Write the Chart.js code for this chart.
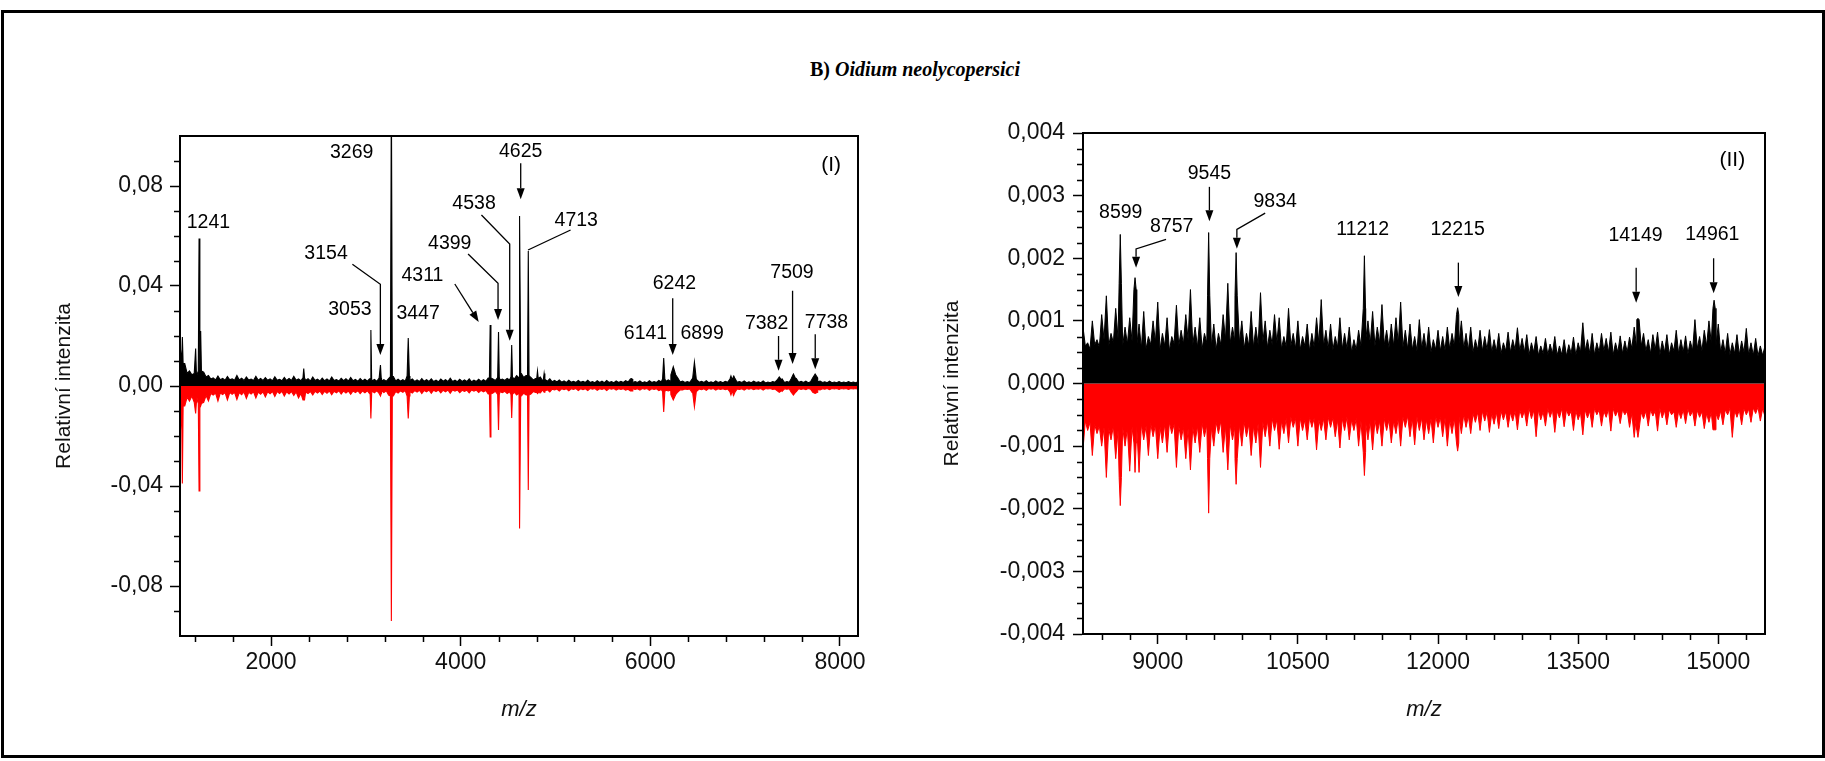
<!DOCTYPE html>
<html>
<head>
<meta charset="utf-8">
<script src="https://cdn.jsdelivr.net/npm/chart.js@4.4.1/dist/chart.umd.min.js"></script>
<style>
    html, body { margin: 0; padding: 0; background: #fff; }
    body { width: 1825px; height: 761px; position: relative; overflow: hidden; }
    #frame { position: absolute; left: 1px; top: 10px; width: 1818px; height: 742px; border: 3px solid #000; }
    #title { position: absolute; left: 0; top: 58px; width: 1830px; text-align: center;
             font: bold 20px "Liberation Serif", "Times New Roman", serif; color: #000; }
    .box { position: absolute; }
</style>
</head>
<body>
<div id="frame"></div>
<div id="title">B) <i>Oidium neolycopersici</i></div>
<div class="box" style="left:0;top:100px"><canvas id="specI" width="900" height="640"></canvas></div>
<div class="box" style="left:880px;top:100px"><canvas id="specII" width="945" height="640"></canvas></div>

<script>
// Panel (I): noise tops every 50 m/z from 1040, troughs half a step later; intensities x1e-3
const gridStartI = 1040;
const gridStepI = 50;
const blackI = [
    17, 9, 6, 5, 6, 5.5, 4.2, 3.2, 4.0, 3.0,
    3.8, 2.9, 4.2, 3.1, 3.6, 2.8, 3.9, 3.0, 3.4, 2.8,
    3.7, 2.7, 3.4, 3.0, 3.9, 2.8, 3.3, 2.9, 3.6, 2.7,
    3.2, 2.8, 3.6, 2.6, 3.1, 2.9, 3.4, 2.6, 3.0, 2.7,
    2.9, 2.6, 3.2, 2.5, 3.0, 3.8, 2.7, 2.5, 4.0, 2.8,
    2.4, 3.0, 2.5, 2.9, 2.3, 2.8, 2.5, 3.1, 2.3, 2.7,
    2.4, 2.9, 2.3, 2.7, 2.5, 3.2, 2.8, 3.4, 2.8, 3.0,
    3.6, 4.2, 5.0, 4.2, 3.4, 3.0, 3.6, 2.6, 2.9, 2.2,
    2.4, 2.0, 2.3, 1.9, 2.2, 1.9, 2.3, 1.8, 2.1, 1.9,
    2.2, 1.8, 2.0, 1.9, 2.1, 2.8, 1.8, 2.0, 1.7, 2.1,
    1.8, 2.2, 2.8, 2.4, 4.5, 3.2, 2.0, 1.8, 2.8, 2.6,
    1.9, 2.1, 1.7, 2.0, 1.8, 1.9, 2.8, 3.2, 1.8, 2.0,
    1.7, 1.9, 1.7, 2.0, 1.6, 1.8, 2.3, 2.8, 1.8, 2.8,
    3.0, 1.9, 1.9, 1.7, 3.3, 2.0, 1.7, 1.9, 1.6, 1.8,
    1.6, 1.8, 1.6, 1.7
];
const blackDipI = [
    8, 5, 4.5, 4.0, 4.5, 3.6, 2.8, 2.4, 2.5, 2.3,
    2.5, 2.3, 2.4, 2.2, 2.4, 2.2, 2.3, 2.2, 2.3, 2.1,
    2.3, 2.1, 2.2, 2.2, 2.3, 2.1, 2.2, 2.0, 2.2, 2.0,
    2.1, 2.0, 2.2, 2.0, 2.1, 2.0, 2.1, 1.9, 2.0, 1.9,
    2.0, 1.9, 2.0, 1.9, 2.2, 2.0, 1.9, 1.9, 2.2, 1.8,
    1.8, 1.9, 1.8, 1.8, 1.7, 1.9, 1.8, 1.8, 1.7, 1.8,
    1.8, 1.7, 1.8, 1.8, 1.9, 2.2, 2.2, 2.4, 2.2, 2.4,
    2.8, 3.2, 3.4, 2.8, 2.4, 2.3, 2.0, 1.9, 1.7, 1.6,
    1.5, 1.4, 1.5, 1.4, 1.5, 1.4, 1.4, 1.3, 1.4, 1.3,
    1.4, 1.3, 1.4, 1.4, 1.6, 1.4, 1.4, 1.3, 1.3, 1.4,
    1.4, 1.6, 1.9, 1.8, 2.4, 1.6, 1.4, 1.4, 2.0, 1.5,
    1.4, 1.3, 1.3, 1.4, 1.3, 1.5, 2.0, 1.5, 1.4, 1.3,
    1.3, 1.4, 1.3, 1.2, 1.3, 1.5, 1.7, 1.4, 1.5, 2.0,
    1.5, 1.4, 1.3, 1.5, 1.7, 1.4, 1.3, 1.3, 1.3, 1.3,
    1.3, 1.3, 1.3
];
const redI = [
    -22, -8, -6, -6.5, -7, -6.5, -6.0, -3.6, -6.0, -3.4,
    -5.6, -3.3, -5.4, -3.5, -5.0, -3.2, -4.8, -3.3, -4.4, -3.1,
    -4.2, -3.0, -4.0, -3.2, -3.8, -4.8, -5.6, -3.0, -3.6, -2.8,
    -3.4, -2.9, -3.5, -2.7, -3.2, -2.8, -3.3, -2.6, -3.1, -2.7,
    -3.1, -2.7, -3.0, -2.6, -3.6, -4.0, -2.8, -2.5, -4.0, -2.8,
    -2.4, -3.0, -2.3, -2.9, -2.2, -2.8, -2.3, -2.9, -2.1, -2.7,
    -2.2, -2.8, -2.1, -2.6, -2.3, -3.2, -2.8, -3.4, -2.7, -3.0,
    -3.4, -3.6, -4.0, -3.6, -3.2, -2.6, -2.8, -2.0, -2.4, -1.6,
    -2.0, -1.5, -1.9, -1.4, -1.8, -1.5, -1.8, -1.3, -1.7, -1.4,
    -1.8, -1.3, -1.6, -1.4, -1.7, -2.0, -1.4, -1.6, -1.3, -1.7,
    -1.4, -1.8, -2.2, -2.0, -3.5, -2.4, -1.6, -1.4, -2.6, -2.2,
    -1.5, -1.7, -1.3, -1.6, -1.4, -1.5, -2.4, -2.7, -1.4, -1.6,
    -1.3, -1.5, -1.3, -1.6, -1.2, -1.4, -1.8, -2.1, -1.3, -2.4,
    -2.2, -1.4, -1.5, -1.3, -2.5, -1.6, -1.3, -1.5, -1.2, -1.4,
    -1.2, -1.4, -1.2, -1.3
];
const redDipI = [
    -7, -4.5, -4.0, -4.2, -4.2, -3.8, -3.0, -2.8, -2.8, -2.6,
    -2.6, -2.5, -2.6, -2.4, -2.5, -2.3, -2.4, -2.3, -2.3, -2.2,
    -2.2, -2.1, -2.3, -2.2, -2.4, -3.0, -2.4, -2.2, -2.1, -2.0,
    -2.1, -2.0, -2.1, -1.9, -2.0, -2.0, -2.0, -1.9, -2.0, -1.9,
    -2.0, -1.9, -1.9, -1.9, -2.4, -2.2, -1.9, -1.8, -2.2, -1.8,
    -1.7, -1.8, -1.6, -1.7, -1.6, -1.7, -1.6, -1.6, -1.6, -1.7,
    -1.7, -1.6, -1.6, -1.7, -1.8, -2.2, -2.1, -2.3, -2.1, -2.3,
    -2.5, -2.8, -2.9, -2.6, -2.2, -2.0, -1.6, -1.5, -1.3, -1.2,
    -1.1, -1.1, -1.1, -1.0, -1.1, -1.1, -1.0, -1.0, -1.1, -1.0,
    -1.0, -1.0, -1.1, -1.1, -1.3, -1.1, -1.1, -1.0, -1.0, -1.1,
    -1.1, -1.4, -1.7, -1.6, -2.2, -1.5, -1.2, -1.2, -1.9, -1.2,
    -1.1, -1.0, -1.0, -1.1, -1.1, -1.2, -1.8, -1.2, -1.1, -1.0,
    -1.0, -1.1, -1.0, -1.0, -1.0, -1.2, -1.5, -1.1, -1.1, -1.8,
    -1.1, -1.1, -1.0, -1.1, -1.4, -1.1, -1.0, -1.0, -1.0, -1.0,
    -1.0, -1.0, -1.0
];
const peakMzI =        [1065, 1205, 1241, 1258, 2345, 3053, 3154, 3269, 3447, 4311, 4399, 4538, 4625, 4713, 4810, 4880, 5800, 6141, 6242, 6465, 6850, 6880, 7360, 7509, 7738];
const peakBlackI =     [19.6, 15, 59, 22, 7, 22.4, 8.4, 120, 19.2, 24.4, 21.6, 16.4, 68, 54, 6, 5, 3, 11.2, 7.7, 9.6, 4, 4, 3.6, 4.8, 4.8];
const peakRedI =       [-39, -11, -42, -8, -5.6, -13, -4, -94, -13, -20.4, -17.6, -12.8, -57, -41.6, -3, -2.5, -2, -10.4, -5.6, -8.4, -3.6, -3.6, -2.5, -3.6, -3];
const peakHalfWidthI = [8, 8, 8, 8, 8, 8, 8, 10, 12, 8, 8, 8, 8, 8, 8, 8, 10, 12, 25, 20, 10, 10, 25, 25, 25];

// Panel (II): envelope tops every 50 m/z from 8200, troughs half a step later; intensities x1e-4
const gridStartII = 8200;
const gridStepII = 50;
const blackII = [
    9.0, 6.5, 10.0, 7.0, 11.0, 14.0, 8.0, 12.0, 16.0, 9.0,
    10.5, 15.0, 9.5, 11.5, 7.5, 10.0, 13.0, 8.0, 10.5, 7.5,
    12.5, 8.5, 11.0, 15.0, 9.0, 10.5, 8.0, 14.0, 9.5, 8.0,
    11.0, 16.0, 9.0, 14.0, 10.0, 8.0, 11.5, 9.0, 14.5, 10.0,
    8.5, 11.0, 10.5, 7.5, 12.0, 8.0, 10.0, 7.5, 9.5, 8.0,
    10.5, 13.4, 8.5, 9.5, 7.5, 10.5, 8.0, 9.0, 7.0, 8.5,
    12.0, 10.0, 11.5, 9.0, 12.6, 8.5, 9.5, 10.5, 13.0, 8.5,
    9.5, 7.5, 10.2, 8.0, 9.0, 7.0, 8.5, 7.5, 9.0, 8.0,
    11.0, 10.0, 8.0, 9.0, 7.0, 8.5, 7.5, 8.6, 7.0, 8.0,
    6.5, 8.2, 7.0, 8.9, 7.2, 7.8, 6.5, 7.5, 6.0, 7.2,
    6.3, 7.5, 6.0, 7.0, 6.2, 7.4, 6.5, 9.7, 7.0, 8.0,
    6.5, 8.0, 7.2, 8.2, 6.5, 7.6, 6.8, 7.4, 9.0, 10.2,
    8.0, 7.0, 7.8, 8.2, 6.8, 7.8, 6.5, 8.5, 7.0, 7.6,
    6.8, 10.2, 7.5, 8.5, 10.0, 12.0, 9.5, 7.0, 8.0, 6.5,
    7.8, 6.8, 8.8, 6.5, 7.2, 6.0, 6.0
];
const blackDipII = [
    6.0, 5.5, 6.2, 5.8, 7.0, 6.0, 6.5, 7.2, 6.0, 6.3,
    6.8, 6.0, 5.6, 5.5, 6.2, 6.6, 5.4, 6.0, 5.2, 6.4,
    6.0, 6.3, 7.0, 6.2, 5.8, 5.5, 6.5, 6.0, 5.4, 6.2,
    7.0, 6.4, 6.8, 6.5, 5.6, 6.0, 5.8, 6.2, 6.6, 5.7,
    6.2, 6.5, 5.5, 5.9, 6.0, 5.6, 5.4, 6.0, 5.2, 5.8,
    6.4, 6.0, 5.6, 5.4, 5.8, 5.5, 5.6, 5.0, 5.4, 6.0,
    6.8, 6.4, 6.0, 6.5, 6.2, 5.7, 6.0, 6.4, 5.8, 5.5,
    5.4, 5.2, 5.6, 5.3, 5.0, 5.4, 5.2, 5.3, 5.5, 6.0,
    6.4, 5.6, 5.3, 5.0, 5.4, 5.2, 5.4, 5.0, 5.1, 4.8,
    5.2, 5.0, 5.4, 5.2, 5.0, 4.6, 5.0, 4.5, 4.8, 4.6,
    4.8, 4.5, 4.6, 4.4, 4.8, 4.5, 5.0, 5.2, 4.8, 4.6,
    5.0, 5.2, 5.0, 4.6, 5.0, 4.8, 5.0, 5.6, 6.0, 6.0,
    5.2, 4.8, 5.4, 4.6, 5.0, 4.6, 5.2, 4.8, 5.0, 4.7,
    5.3, 5.6, 5.2, 6.0, 6.5, 6.0, 5.0, 4.8, 4.6, 4.8,
    4.6, 5.0, 4.6, 4.5, 4.4, 4.5
];
const redII = [
    -10.5, -7.5, -11.5, -8.0, -10.0, -15.0, -9.0, -12.0, -15.0, -10.0,
    -14.0, -9.5, -14.2, -9.0, -11.5, -8.5, -12.0, -9.5, -11.0, -8.0,
    -13.4, -9.0, -12.0, -13.8, -9.5, -11.0, -8.5, -12.0, -10.0, -8.0,
    -11.0, -13.8, -9.0, -12.0, -10.0, -8.5, -11.5, -9.5, -13.4, -8.5,
    -10.0, -7.5, -10.5, -8.0, -9.5, -7.0, -10.0, -7.5, -9.0, -7.0,
    -10.6, -7.5, -9.0, -7.0, -8.5, -10.3, -7.5, -9.0, -7.5, -10.0,
    -11.0, -9.0, -10.6, -8.0, -10.0, -7.5, -9.5, -8.0, -10.0, -7.0,
    -8.5, -9.8, -7.5, -9.0, -8.0, -9.5, -7.0, -8.5, -10.0, -8.0,
    -9.5, -8.0, -7.0, -8.0, -6.2, -7.5, -6.0, -7.8, -6.5, -7.2,
    -5.8, -7.0, -6.0, -7.4, -5.5, -6.8, -5.6, -8.5, -5.8, -6.8,
    -5.4, -7.8, -5.5, -6.9, -5.2, -7.5, -5.8, -8.2, -5.5, -7.0,
    -5.0, -6.8, -5.4, -7.6, -5.2, -6.4, -5.0, -7.0, -8.6, -7.4,
    -5.6, -6.8, -5.2, -7.6, -5.5, -6.6, -5.0, -7.0, -5.6, -6.4,
    -5.2, -6.8, -5.4, -7.2, -6.2, -7.4, -5.8, -6.6, -5.0, -8.6,
    -5.4, -6.6, -5.0, -6.2, -4.8, -6.0, -5.3
];
const redDipII = [
    -6.0, -6.2, -6.5, -6.8, -7.0, -7.2, -6.8, -7.5, -7.0, -7.2,
    -7.0, -6.8, -6.5, -6.8, -6.4, -6.6, -7.0, -6.5, -6.2, -6.5,
    -6.8, -7.0, -7.2, -7.0, -6.8, -6.4, -6.6, -7.0, -6.2, -6.0,
    -6.8, -6.5, -7.0, -6.6, -6.2, -6.5, -6.8, -6.4, -6.2, -6.0,
    -5.6, -5.8, -6.0, -5.6, -5.4, -5.6, -5.5, -5.8, -5.4, -5.5,
    -5.8, -5.6, -5.4, -5.5, -5.8, -5.6, -5.4, -5.8, -5.6, -6.0,
    -6.2, -6.0, -5.8, -6.0, -5.6, -5.8, -6.0, -5.5, -5.4, -5.2,
    -5.6, -5.4, -5.5, -5.8, -5.6, -5.2, -5.4, -5.5, -5.8, -5.6,
    -5.4, -5.0, -5.2, -4.8, -4.6, -4.4, -4.5, -4.8, -4.6, -4.4,
    -4.5, -4.6, -4.4, -4.2, -4.4, -4.0, -4.3, -4.2, -4.5, -4.0,
    -4.2, -4.4, -4.0, -4.2, -4.4, -4.3, -4.6, -4.2, -4.4, -4.0,
    -4.2, -4.4, -4.1, -4.0, -4.3, -4.2, -4.4, -4.8, -5.0, -4.6,
    -4.4, -4.2, -4.4, -4.0, -4.3, -4.2, -4.5, -4.4, -4.2, -4.1,
    -4.4, -4.3, -4.5, -4.8, -4.6, -4.8, -4.4, -4.2, -4.0, -4.3,
    -4.2, -4.0, -4.1, -3.9, -3.8, -4.0
];
const peakMzII =        [8599, 8757, 9545, 9839, 11212, 12210, 14140, 14955];
const peakBlackII =     [23.8, 16.9, 24.1, 20.9, 20.4, 12.1, 10.4, 13.3];
const peakRedII =       [-19.5, -14.2, -20.7, -16.1, -14.7, -10.8, -8.6, -7.4];
const peakHalfWidthII = [12, 12, 12, 12, 12, 12, 12, 12];

// Axis ticks
const xTicksI = [2000, 4000, 6000, 8000];
const yTicksI = [-0.08, -0.04, 0, 0.04, 0.08];
const xTicksII = [9000, 10500, 12000, 13500, 15000];
const yTicksII = [-0.004, -0.003, -0.002, -0.001, 0, 0.001, 0.002, 0.003, 0.004];

// Peak labels [text, m/z, intensity] and leader arrows
const labelsI = [
    ['1241', 1340, 0.0653], ['3269', 2850, 0.0933], ['3154', 2580, 0.053], ['3053', 2832, 0.0307],
    ['3447', 3551, 0.029], ['4311', 3597, 0.044], ['4399', 3885, 0.0568], ['4538', 4141, 0.073],
    ['4625', 4633, 0.0937], ['4713', 5219, 0.066], ['6141', 5949, 0.021], ['6242', 6254, 0.0408],
    ['6899', 6546, 0.021], ['7382', 7226, 0.0248], ['7509', 7494, 0.0455], ['7738', 7858, 0.0253]
];
const arrowsI = [
    { pts: [[2858, 0.0487], [3153, 0.0407], [3153, 0.0124]], head: true },
    { pts: [[3938, 0.0408], [4190, 0.0256]], head: true },
    { pts: [[4078, 0.0528], [4394, 0.0411], [4394, 0.0264]], head: true },
    { pts: [[4219, 0.0684], [4517, 0.0568], [4517, 0.0181]], head: true },
    { pts: [[4633, 0.0891], [4633, 0.0747]], head: true },
    { pts: [[5159, 0.0624], [4710, 0.0544]], head: false },
    { pts: [[6236, 0.0351], [6236, 0.0124]], head: true },
    { pts: [[7500, 0.0381], [7500, 0.0088]], head: true },
    { pts: [[7352, 0.0200], [7352, 0.0061]], head: true },
    { pts: [[7739, 0.0207], [7739, 0.0067]], head: true }
];
const labelsII = [
    ['8599', 8604, 0.00273], ['8757', 9150, 0.0025], ['9545', 9553, 0.00335], ['9834', 10257, 0.00291],
    ['11212', 11193, 0.00246], ['12215', 12210, 0.00246], ['14149', 14114, 0.00236], ['14961', 14936, 0.00238]
];
const arrowsII = [
    { pts: [[9089, 0.0023], [8768, 0.00215], [8768, 0.00185]], head: true },
    { pts: [[9553, 0.00314], [9553, 0.00259]], head: true },
    { pts: [[10150, 0.00272], [9847, 0.00246], [9847, 0.00215]], head: true },
    { pts: [[12218, 0.00193], [12218, 0.00138]], head: true },
    { pts: [[14121, 0.00185], [14121, 0.00129]], head: true },
    { pts: [[14950, 0.0020], [14950, 0.00144]], head: true }
];

Chart.defaults.font.family = '"Liberation Sans", Arial, sans-serif';
Chart.defaults.color = '#000';
Chart.defaults.animation = false;

// noise tops + troughs + narrow peaks, sorted by m/z
function buildSpectrum(start, step, tops, dips, peakMz, peakVal, halfWidth, unit) {
    let pts = [];
    tops.forEach((v, i) => pts.push({ x: start + i * step, y: v * unit }));
    dips.forEach((v, i) => pts.push({ x: start + step / 2 + i * step, y: v * unit }));
    peakMz.forEach((mz, k) => {
        pts = pts.filter(p => p.x <= mz - halfWidth[k] || p.x >= mz + halfWidth[k]);
    });
    peakMz.forEach((mz, k) => {
        const near = tops[Math.round((mz - start) / step)] * unit;
        pts.push({ x: mz - halfWidth[k], y: near }, { x: mz, y: peakVal[k] * unit }, { x: mz + halfWidth[k], y: near });
    });
    return pts.sort((a, b) => a.x - b.x);
}

function range(from, to, step) {
    const out = [];
    for (let v = from; v <= to + step / 1000; v += step) out.push(+v.toFixed(6));
    return out;
}

// frame, minor ticks, peak labels and arrows
const decorations = {
    id: 'decorations',
    afterDraw(chart, args, o) {
        const { ctx, chartArea: a, scales: { x, y } } = chart;
        ctx.save();
        ctx.strokeStyle = '#000';
        ctx.fillStyle = '#000';
        ctx.lineWidth = 2;
        ctx.strokeRect(a.left, a.top, a.right - a.left, a.bottom - a.top);

        ctx.lineWidth = 1.5;
        ctx.beginPath();
        o.minorX.forEach(v => {
            const px = Math.round(x.getPixelForValue(v)) + 0.5;
            ctx.moveTo(px, a.bottom); ctx.lineTo(px, a.bottom + 6);
        });
        o.minorY.forEach(v => {
            const py = Math.round(y.getPixelForValue(v)) + 0.5;
            ctx.moveTo(a.left, py); ctx.lineTo(a.left - 6, py);
        });
        ctx.stroke();

        ctx.textAlign = 'center';
        ctx.textBaseline = 'middle';
        ctx.font = '19.5px "Liberation Sans", Arial, sans-serif';
        o.labels.forEach(l => ctx.fillText(l[0], x.getPixelForValue(l[1]), y.getPixelForValue(l[2])));
        ctx.font = '21px "Liberation Sans", Arial, sans-serif';
        ctx.fillText(o.tag[0], x.getPixelForValue(o.tag[1]), y.getPixelForValue(o.tag[2]));

        ctx.lineWidth = 1.3;
        o.arrows.forEach(ar => {
            const p = ar.pts.map(q => [x.getPixelForValue(q[0]), y.getPixelForValue(q[1])]);
            const n = p.length;
            const dx = p[n - 1][0] - p[n - 2][0], dy = p[n - 1][1] - p[n - 2][1];
            const len = Math.hypot(dx, dy), ux = dx / len, uy = dy / len;
            const headLen = ar.head ? 11 : 0;
            ctx.beginPath();
            ctx.moveTo(p[0][0], p[0][1]);
            for (let i = 1; i < n - 1; i++) ctx.lineTo(p[i][0], p[i][1]);
            ctx.lineTo(p[n - 1][0] - ux * headLen, p[n - 1][1] - uy * headLen);
            ctx.stroke();
            if (ar.head) {
                const bx = p[n - 1][0] - ux * headLen, by = p[n - 1][1] - uy * headLen;
                ctx.beginPath();
                ctx.moveTo(p[n - 1][0], p[n - 1][1]);
                ctx.lineTo(bx - uy * 4, by + ux * 4);
                ctx.lineTo(bx + uy * 4, by - ux * 4);
                ctx.closePath();
                ctx.fill();
            }
        });
        ctx.restore();
    }
};

function makeScales(o) {
    return {
        x: {
            type: 'linear',
            min: o.xMin,
            max: o.xMax,
            afterBuildTicks: s => { s.ticks = o.xTicks.map(v => ({ value: v })); },
            afterFit: s => { s.height = o.xHeight; },
            ticks: {
                autoSkip: false,
                maxRotation: 0,
                padding: o.xPad,
                font: { size: 23 },
                color: '#111',
                callback: v => String(v)
            },
            grid: { display: true, drawOnChartArea: false, drawTicks: true, tickLength: 10, tickWidth: 1.5, tickColor: '#000' },
            border: { display: true, color: '#000', width: 2 },
            title: {
                display: true,
                text: 'm/z',
                color: '#111',
                font: { size: 22, style: 'italic' },
                padding: { top: 0, bottom: 17 }
            }
        },
        y: {
            type: 'linear',
            min: o.yMin,
            max: o.yMax,
            afterBuildTicks: s => { s.ticks = o.yTicks.map(v => ({ value: v })); },
            afterFit: s => { s.width = o.yWidth; },
            ticks: {
                padding: o.yPad,
                font: { size: 23 },
                color: '#111',
                callback: v => v.toFixed(o.yDec).replace('.', ',')
            },
            grid: { display: true, drawOnChartArea: false, drawTicks: true, tickLength: 10, tickWidth: 1.5, tickColor: '#000' },
            border: { display: true, color: '#000', width: 2 },
            title: {
                display: true,
                text: 'Relativní intenzita',
                color: '#111',
                font: { size: 21 },
                padding: { top: o.yTitlePad, bottom: 0 }
            }
        }
    };
}

function spectrumDataset(points, color, order, width) {
    return {
        data: points,
        borderColor: color,
        backgroundColor: color,
        fill: 'origin',
        borderWidth: width,
        pointRadius: 0,
        tension: 0,
        order: order
    };
}

new Chart(document.getElementById('specI'), {
    type: 'line',
    data: {
        datasets: [
            spectrumDataset(buildSpectrum(gridStartI, gridStepI, blackI, blackDipI, peakMzI, peakBlackI, peakHalfWidthI, 1e-3), '#000', 1, 1.1),
            spectrumDataset(buildSpectrum(gridStartI, gridStepI, redI, redDipI, peakMzI, peakRedI, peakHalfWidthI, 1e-3), '#f00', 2, 1.1)
        ]
    },
    options: {
        responsive: false,
        layout: { padding: { top: 36, right: 42, left: 0, bottom: 0 } },
        plugins: {
            legend: { display: false },
            tooltip: { enabled: false },
            decorations: {
                minorX: range(1200, 8000, 400).filter(v => v % 2000 !== 0),
                minorY: range(-0.09, 0.09, 0.01).filter(v => Math.abs(Math.round(v * 100)) % 4 !== 0),
                labels: labelsI,
                arrows: arrowsI,
                tag: ['(I)', 7907, 0.0884]
            }
        },
        scales: makeScales({
            xMin: 1040, xMax: 8190, xTicks: xTicksI, xHeight: 104, xPad: 3,
            yMin: -0.1, yMax: 0.1, yTicks: yTicksI, yWidth: 180, yPad: 7, yDec: 2, yTitlePad: 52
        })
    },
    plugins: [decorations]
});

new Chart(document.getElementById('specII'), {
    type: 'line',
    data: {
        datasets: [
            spectrumDataset(buildSpectrum(gridStartII, gridStepII, blackII, blackDipII, peakMzII, peakBlackII, peakHalfWidthII, 1e-4), '#000', 1, 1),
            spectrumDataset(buildSpectrum(gridStartII, gridStepII, redII, redDipII, peakMzII, peakRedII, peakHalfWidthII, 1e-4), '#f00', 2, 1)
        ]
    },
    options: {
        responsive: false,
        layout: { padding: { top: 33, right: 60, left: 0, bottom: 0 } },
        plugins: {
            legend: { display: false },
            tooltip: { enabled: false },
            decorations: {
                minorX: range(8400, 15300, 300).filter(v => (v - 9000) % 1500 !== 0),
                minorY: range(-0.00375, 0.00375, 0.00025).filter(v => Math.abs(Math.round(v * 4000)) % 4 !== 0),
                labels: labelsII,
                arrows: arrowsII,
                tag: ['(II)', 15150, 0.00357]
            }
        },
        scales: makeScales({
            xMin: 8200, xMax: 15500, xTicks: xTicksII, xHeight: 106, xPad: 5,
            yMin: -0.004, yMax: 0.004, yTicks: yTicksII, yWidth: 203, yPad: 8, yDec: 3, yTitlePad: 60
        })
    },
    plugins: [decorations]
});
</script>
</body>
</html>
